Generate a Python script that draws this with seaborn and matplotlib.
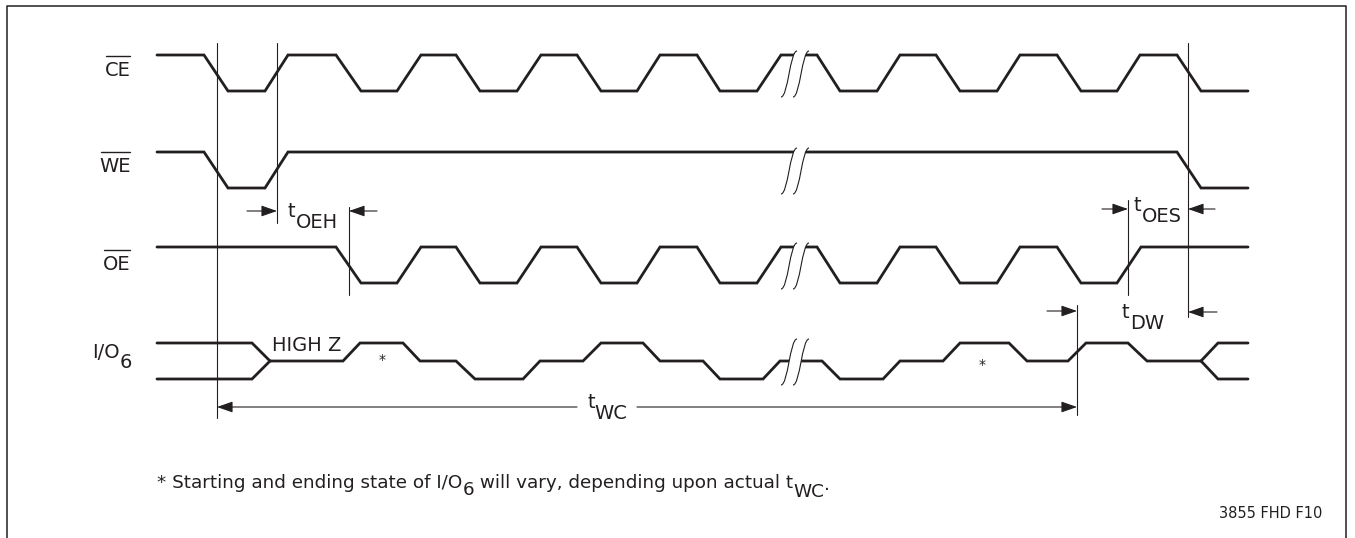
import matplotlib
matplotlib.use("Agg")
import matplotlib.pyplot as plt
from matplotlib.path import Path
from matplotlib.patches import PathPatch
import seaborn as sns

# --- CONFIGURATION ---
W, H = 1355, 538
INK = "#231f20"
SIG_LW = 2.0
THIN_LW = 0.8
LABEL_SIZE = 14

# signal rows (pixel y of high / low level)
ROW_HIGH = {"CE": 55, "WE": 152, "OE": 247, "IO": 343}
ROW_LOW = {"CE": 91, "WE": 188, "OE": 283, "IO": 379}

# waveform corners: x position and logic level (1 = high, 0 = low, 0.5 = high Z)
CE_X = [157, 204, 228, 265, 288, 336, 361, 397, 421, 456, 480, 517, 541, 577, 601, 637,
        660, 697, 720, 757, 781, 817, 840, 877, 900, 936, 960, 997, 1020, 1057, 1081, 1117,
        1140, 1177, 1201, 1248]
CE_LVL = [1, 1, 0, 0, 1, 1, 0, 0, 1, 1, 0, 0, 1, 1, 0, 0,
          1, 1, 0, 0, 1, 1, 0, 0, 1, 1, 0, 0, 1, 1, 0, 0,
          1, 1, 0, 0]

WE_X = [157, 204, 228, 265, 288, 1177, 1201, 1248]
WE_LVL = [1, 1, 0, 0, 1, 1, 0, 0]

OE_X = [157, 336, 361, 397, 421, 456, 480, 517, 541, 577, 601, 637, 660, 697, 720, 757,
        781, 817, 840, 877, 900, 936, 960, 997, 1020, 1057, 1081, 1117, 1141, 1248]
OE_LVL = [1, 1, 0, 0, 1, 1, 0, 0, 1, 1, 0, 0, 1, 1, 0, 0,
          1, 1, 0, 0, 1, 1, 0, 0, 1, 1, 0, 0, 1, 1]

IO_X = [270, 343, 360, 403, 420, 456, 475, 523, 540, 583, 601, 643, 660, 703, 720, 763,
        780, 822, 840, 883, 900, 943, 960, 1009, 1027, 1068, 1086, 1128, 1147, 1201]
IO_LVL = [0.5, 0.5, 1, 1, 0.5, 0.5, 0, 0, 0.5, 0.5, 1, 1, 0.5, 0.5, 0, 0,
          0.5, 0.5, 0, 0, 0.5, 0.5, 1, 1, 0.5, 0.5, 1, 1, 0.5, 0.5]
IO_START_X = [157, 252, 270]
IO_START_HI = [1, 1, 0.5]
IO_START_LO = [0, 0, 0.5]
IO_END_X = [1201, 1218, 1248]
IO_END_HI = [0.5, 1, 1]
IO_END_LO = [0.5, 0, 0]

# timing reference lines: x, y top, y bottom
VLINES = [(217, 43, 418), (277, 43, 223), (1188, 43, 317),
          (349, 207, 295), (1128, 200, 295), (1077, 305, 415)]

# dimension arrows: tail -> head
ARROWS = [((247, 211), (277, 211)), ((377, 211), (349, 211)),
          ((1102, 209), (1128, 209)), ((1215, 209), (1188, 209)),
          ((1047, 311), (1077, 311)), ((1217, 312), (1188, 312)),
          ((577, 407), (217, 407)), ((637, 407), (1077, 407))]

# timing labels: subscript, x, baseline
TIMING = [("OEH", 288, 217), ("OES", 1134, 211), ("DW", 1122, 318), ("WC", 587, 408)]

BREAK_X = [781, 793]


def level_y(row, lvl):
    hi, lo = ROW_HIGH[row], ROW_LOW[row]
    return lo + (hi - lo) * lvl


def draw_wave(ax, row, xs, lvls):
    ys = [level_y(row, v) for v in lvls]
    sns.lineplot(x=xs, y=ys, sort=False, estimator=None, ax=ax, color=INK,
                 lw=SIG_LW, solid_joinstyle="miter", zorder=3)


def chain_text(ax, x, y, pieces, size, ha="left"):
    """ Lays out text pieces side by side; each piece gets its own baseline drop. """
    r = ax.figure.canvas.get_renderer()
    inv = ax.transData.inverted()
    arts = []
    cur = x
    for s, dy in pieces:
        t = ax.text(cur, y + dy, s, fontsize=size, va="baseline", ha="left", color=INK, zorder=5)
        bb = t.get_window_extent(r)
        cur = inv.transform((bb.x1, bb.y0))[0]
        arts.append(t)
    if ha == "right":
        shift = x - cur
        for t in arts:
            t.set_x(t.get_position()[0] + shift)
    return arts


def bar_label(ax, txt, x_right, base, size=LABEL_SIZE):
    t = chain_text(ax, x_right, base, [(txt, 0)], size, ha="right")[0]
    r = ax.figure.canvas.get_renderer()
    bb = t.get_window_extent(r)
    inv = ax.transData.inverted()
    x0 = inv.transform((bb.x0, bb.y0))[0]
    x1 = inv.transform((bb.x1, bb.y0))[0]
    ax.plot([x0 + 1, x1 - 1], [base - 20, base - 20], color=INK, lw=1.0)


def break_mark(ax, xb, yb, yt):
    """ Integral-shaped break symbol; the gap between the pair is blanked. """
    curves = []
    for x0 in BREAK_X:
        dx = x0 - BREAK_X[0]
        verts = [(xb + dx, yb), (xb + dx + 7, yb), (xb + dx + 9, yt), (xb + dx + 16, yt)]
        curves.append(verts)
    # white fill between the two curves
    c1, c2 = curves
    fill = c1 + [c2[3], c2[2], c2[1], c2[0], c1[0]]
    codes = [Path.MOVETO, Path.CURVE4, Path.CURVE4, Path.CURVE4,
             Path.LINETO, Path.CURVE4, Path.CURVE4, Path.CURVE4, Path.CLOSEPOLY]
    ax.add_patch(PathPatch(Path(fill, codes), facecolor="white", edgecolor="none", zorder=4))
    for c in curves:
        p = Path(c, [Path.MOVETO, Path.CURVE4, Path.CURVE4, Path.CURVE4])
        ax.add_patch(PathPatch(p, facecolor="none", edgecolor=INK, lw=THIN_LW, zorder=5))


sns.set_style("white")
plt.rcParams["font.family"] = ["DejaVu Sans"]

fig = plt.figure(figsize=(W / 100, H / 100), dpi=100)
ax = fig.add_axes([0, 0, 1, 1])
ax.set_xlim(0, W)
ax.set_ylim(H, 0)
ax.axis("off")

# outer frame
ax.plot([7, 7, 1346, 1346], [H + 5, 6, 6, H + 5], color=INK, lw=1.1)

# waveforms
draw_wave(ax, "CE", CE_X, CE_LVL)
draw_wave(ax, "WE", WE_X, WE_LVL)
draw_wave(ax, "OE", OE_X, OE_LVL)
draw_wave(ax, "IO", IO_X, IO_LVL)
draw_wave(ax, "IO", IO_START_X, IO_START_HI)
draw_wave(ax, "IO", IO_START_X, IO_START_LO)
draw_wave(ax, "IO", IO_END_X, IO_END_HI)
draw_wave(ax, "IO", IO_END_X, IO_END_LO)

for row in ["CE", "WE", "OE", "IO"]:
    break_mark(ax, BREAK_X[0], ROW_LOW[row] + 6, ROW_HIGH[row] - 4)

for x, y0, y1 in VLINES:
    ax.plot([x, x], [y0, y1], color=INK, lw=THIN_LW, zorder=2)

for tail, head in ARROWS:
    ax.annotate("", xy=head, xytext=tail,
                arrowprops=dict(arrowstyle="-|>,head_length=0.8,head_width=0.28",
                                color=INK, lw=THIN_LW, shrinkA=0, shrinkB=0,
                                mutation_scale=12))

for sub, x, base in TIMING:
    chain_text(ax, x, base, [("t", 0), (sub, 11)], LABEL_SIZE)

# signal names
bar_label(ax, "CE", 131, 76)
bar_label(ax, "WE", 131, 172)
bar_label(ax, "OE", 131, 270)
chain_text(ax, 132, 358, [("I/O", 0), ("6", 10)], LABEL_SIZE, ha="right")

ax.text(272, 351, "HIGH Z", fontsize=LABEL_SIZE, va="baseline", color=INK)
ax.text(382, 360, "*", fontsize=10, ha="center", va="center", color=INK)
ax.text(982, 365, "*", fontsize=10, ha="center", va="center", color=INK)

chain_text(ax, 157, 488, [("* Starting and ending state of I/O", 0), ("6", 7),
                          (" will vary, depending upon actual t", 0), ("WC", 9), (".", 2)], 13.2)
ax.text(1322, 518, "3855 FHD F10", fontsize=10.5, ha="right", va="baseline", color=INK)

plt.savefig("out.png", dpi=100)
plt.close()
